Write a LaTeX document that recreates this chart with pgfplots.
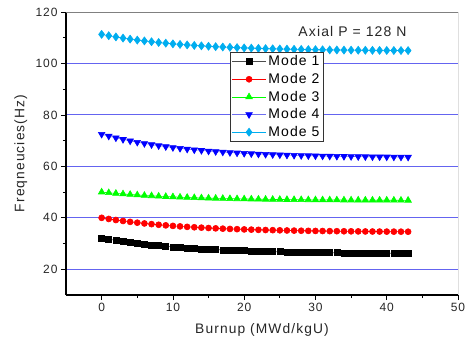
\documentclass[border=0pt]{standalone}
\usepackage{fontspec}
\setmainfont{Liberation Sans}[LetterSpace=8]
\usepackage{pgfplots}
\usepackage{pgfplotstable}
\pgfplotsset{compat=1.18}
\definecolor{gridblue}{RGB}{100,100,240}
\definecolor{mfour}{RGB}{0,0,255}
\definecolor{mfourl}{RGB}{110,110,240}
\pgfplotstableread{
x m1 m2 m3 m4 m5
0 32.20 40.00 50.00 72.50 111.30
1 31.71 39.56 49.74 71.77 110.78
2 31.25 39.15 49.49 71.09 110.31
3 30.84 38.77 49.27 70.48 109.87
4 30.45 38.43 49.07 69.90 109.46
5 30.10 38.11 48.88 69.38 109.09
6 29.77 37.81 48.70 68.90 108.75
7 29.47 37.55 48.55 68.45 108.44
8 29.20 37.30 48.40 68.05 108.15
9 28.94 37.07 48.26 67.67 107.88
10 28.71 36.86 48.14 67.32 107.64
11 28.50 36.67 48.02 67.01 107.41
12 28.30 36.49 47.92 66.71 107.20
13 28.12 36.33 47.82 66.44 107.01
14 27.95 36.18 47.73 66.20 106.84
15 27.80 36.04 47.65 65.97 106.68
16 27.66 35.91 47.58 65.76 106.53
17 27.52 35.79 47.51 65.57 106.39
18 27.41 35.68 47.44 65.39 106.27
19 27.30 35.59 47.38 65.23 106.15
20 27.19 35.49 47.33 65.07 106.04
21 27.10 35.41 47.28 64.94 105.95
22 27.02 35.33 47.23 64.81 105.86
23 26.94 35.26 47.19 64.69 105.77
24 26.86 35.20 47.15 64.58 105.70
25 26.80 35.14 47.12 64.49 105.63
26 26.74 35.08 47.09 64.39 105.56
27 26.68 35.03 47.06 64.31 105.50
28 26.63 34.98 47.03 64.23 105.45
29 26.58 34.94 47.00 64.16 105.40
30 26.53 34.90 46.98 64.10 105.35
31 26.49 34.87 46.96 64.04 105.31
32 26.46 34.83 46.94 63.98 105.27
33 26.42 34.80 46.92 63.93 105.23
34 26.39 34.77 46.90 63.88 105.20
35 26.36 34.75 46.89 63.84 105.17
36 26.34 34.72 46.87 63.80 105.14
37 26.31 34.70 46.86 63.76 105.12
38 26.29 34.68 46.85 63.73 105.09
39 26.27 34.66 46.84 63.70 105.07
40 26.25 34.64 46.83 63.67 105.05
41 26.23 34.63 46.82 63.65 105.03
42 26.21 34.61 46.81 63.62 105.02
43 26.20 34.60 46.80 63.60 105.00
}\modes
\begin{document}
\begin{tikzpicture}
\path[use as bounding box] (-66pt,-45pt) rectangle (399pt,295pt);
\begin{axis}[
  scale only axis,
  width=392pt, height=283pt,
  xmin=-5, xmax=50, ymin=10, ymax=120,
  xtick={0,10,20,30,40,50},
  ytick={20,40,60,80,100,120},
  minor x tick num=1, minor y tick num=1,
  tick align=outside,
  major tick length=5pt, minor tick length=3pt,
  axis x line*=bottom, axis y line*=left,
  axis line style={line width=1.1pt,black,-},
  every tick/.style={black,line width=0.8pt},
  /pgf/number format/assume math mode=true,
  tick label style={font=\fontsize{12}{14}\selectfont,text=black!85},
  ymajorgrids,
  major grid style={draw=gridblue,line width=0.9pt},
  xlabel={Burnup (MWd/kgU)},
  ylabel={Freqneucies(Hz)},
  label style={font=\fontsize{13.8}{16}\selectfont,text=black!85},
  xlabel style={at={(axis description cs:0.5,-0.124)},anchor=center},
  ylabel style={at={(axis description cs:-0.115,0.5)},anchor=center},
  legend style={at={(axis description cs:0.418,0.859)},anchor=north west,
    font=\fontsize{14}{16}\selectfont,draw=black!80,line width=0.8pt,
    inner sep=1.5pt,row sep=2pt,cells={anchor=west}},
  legend image code/.code={%
    \draw[#1,mark repeat=2,mark phase=2] plot coordinates {(0pt,0pt)(17pt,0pt)(34pt,0pt)};},
]
\addplot[black!70,line width=0.6pt,mark=square*,mark size=3pt,mark options={black,solid}] table[x=x,y=m1]{\modes};
\addlegendentry{Mode 1}
\addplot[red,line width=0.6pt,mark=*,mark size=3pt,mark options={red,solid}] table[x=x,y=m2]{\modes};
\addlegendentry{Mode 2}
\addplot[green,line width=0.6pt,mark=triangle*,mark size=3.8pt,mark options={green,solid}] table[x=x,y=m3]{\modes};
\addlegendentry{Mode 3}
\addplot[mfourl,line width=0.6pt,mark=triangle*,mark size=3.8pt,mark options={mfour,rotate=180,solid}] table[x=x,y=m4]{\modes};
\addlegendentry{Mode 4}
\addplot[cyan,line width=0.6pt,mark=diamond*,mark size=4pt,mark options={cyan,solid}] table[x=x,y=m5]{\modes};
\addlegendentry{Mode 5}
\draw[black!50,line width=0.8pt] (rel axis cs:0,1) -- (rel axis cs:1,1);
\draw[black,line width=0.8pt] (rel axis cs:1,0) -- (rel axis cs:1,1);
\node[font=\fontsize{14}{16}\selectfont,text=black!85] at (axis cs:35.2,112.6) {Axial P = 128 N};
\end{axis}
\end{tikzpicture}
\end{document}
